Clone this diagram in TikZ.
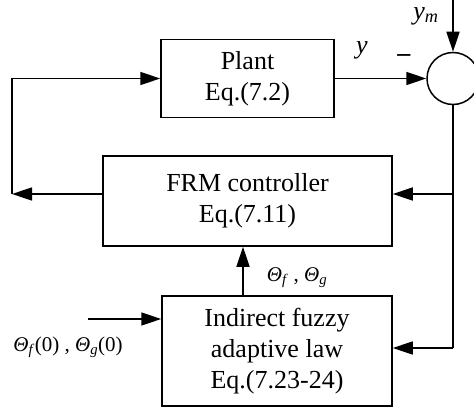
\documentclass[tikz,border=0pt]{standalone}
\usepackage{fontspec}
\setmainfont{Liberation Serif}
\usepackage{tikz}
\usetikzlibrary{arrows.meta,positioning,calc}
\tikzset{
  blk/.style={draw, line width=1.5pt, align=center, inner sep=0pt, font=\fontsize{26}{31}\selectfont},
  sumc/.style={draw, circle, line width=1.5pt, minimum size=52pt, inner sep=0pt},
  arr/.style={-{Triangle[length=20pt,width=13pt]}, line width=1.5pt},
  wire/.style={line width=1.5pt},
  lbl/.style={inner sep=0pt, font=\fontsize{26}{30}\selectfont},
  lblsm/.style={inner sep=0pt, font=\fontsize{21}{25}\selectfont}
}
\newcommand{\vth}{\textit{Θ}}
\begin{document}
\begin{tikzpicture}[x=1pt,y=-1pt]
\useasboundingbox (0,0) rectangle (474,412);
\node[blk, minimum width=173pt, minimum height=78pt] (plant) at (247.5,78.5) {Plant\\Eq.(7.2)};
\node[blk, minimum width=289pt, minimum height=90pt] (frm) at (247.5,201) {FRM controller\\Eq.(7.11)};
\node[blk, minimum width=230pt, minimum height=110pt] (law) at (277,351) {Indirect fuzzy\\adaptive law\\Eq.(7.23-24)};
\node[sumc] (sum) at (453,78.5) {};
\coordinate (ym) at (453,0);
\coordinate (fl) at (12,194);
\coordinate (br) at (453,348);
\coordinate (in) at (88,319);
\node[lbl] (ylab) at (362,50) {\textit{y}};
\node[lbl] (minus) at (404,58) {\textbf{--}};
\node[lbl] (ymlab) at (426,16) {\textit{y\textsubscript{m}}};
\node[lblsm] (thlab) at (297,278) {\vth\textsubscript{\textit{f}} , \vth\textsubscript{\textit{g}}};
\node[lblsm] (th0lab) at (68,347) {\vth\textsubscript{\textit{f}}(0) , \vth\textsubscript{\textit{g}}(0)};
\draw[arr] (ym) -- (sum.north);
\draw[arr] (plant.east) -- (sum.west);
\draw[wire] (sum.south) -- (br);
\draw[arr] (br) -- (law.east |- br);
\draw[arr] (sum.south |- fl) -- (frm.east |- fl);
\draw[arr] (frm.west |- fl) -- (fl);
\draw[arr] (fl) |- (plant.west);
\draw[arr] ([xshift=-34pt]law.north) -- ([xshift=-34pt]law.north |- frm.south);
\draw[arr] (in) -- (in -| law.west);
\end{tikzpicture}
\end{document}
